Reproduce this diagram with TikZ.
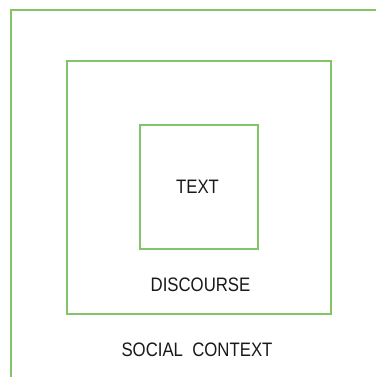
\documentclass[tikz,border=0pt]{standalone}
\usepackage{fontspec}
\setmainfont{Liberation Sans}
\newfontfamily\lblfont[FakeStretch=0.86]{Liberation Sans}
\definecolor{boxgreen}{RGB}{130,196,102}
\begin{document}
\begin{tikzpicture}[x=1pt,y=-1pt,
  frame/.style={draw=boxgreen,line width=1.8pt},
  lbl/.style={font=\lblfont\fontsize{19.5}{23}\selectfont,text=black!90,inner sep=0pt,anchor=center}]
\useasboundingbox (0,0) rectangle (375,377);
\coordinate (ob) at (11,400);
\coordinate (oc) at (11,10);
\coordinate (or) at (400,10);
\draw[frame] (ob) -- (oc) -- (or);
\draw[frame] (67,61) rectangle (331,314);
\draw[frame] (140,125) rectangle (258,249);
\node[lbl] (text) at (197.5,187) {TEXT};
\node[lbl] (discourse) at (200.5,285) {DISCOURSE};
\node[lbl] (social) at (197,349.5) {SOCIAL\ \ CONTEXT};
\end{tikzpicture}
\end{document}
